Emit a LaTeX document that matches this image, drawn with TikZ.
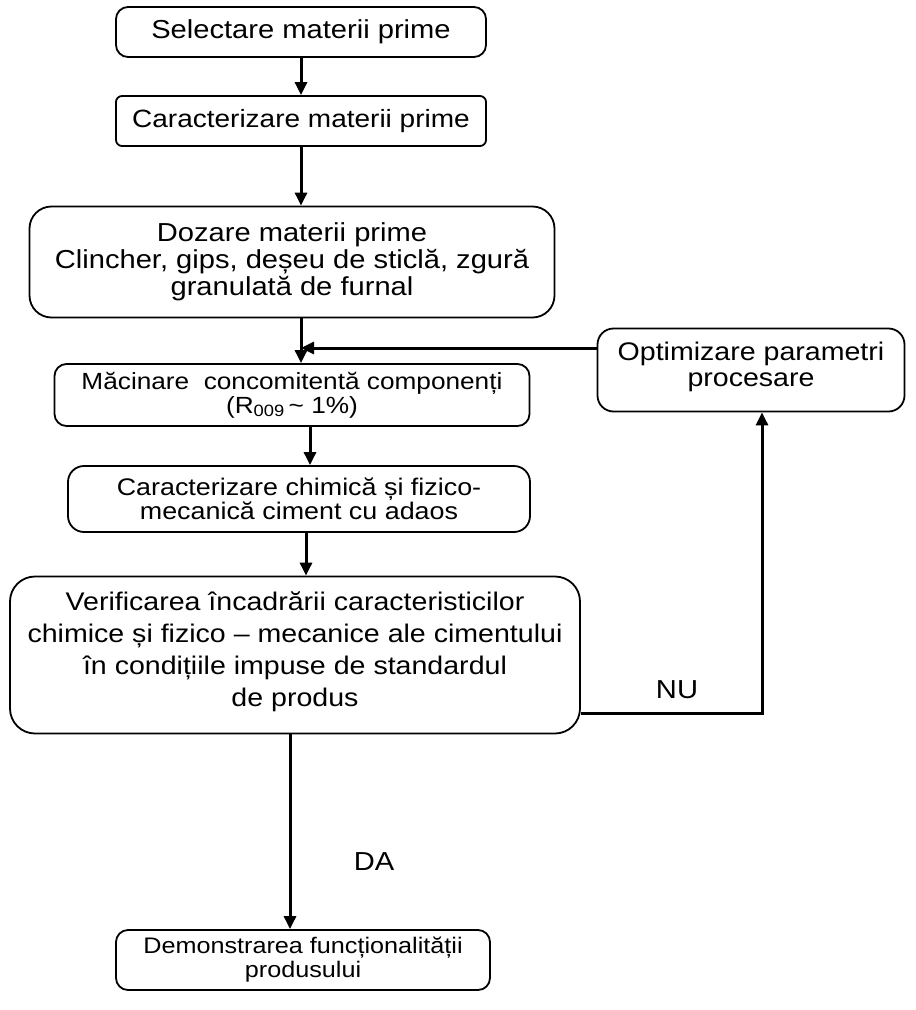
\documentclass[tikz,border=0pt]{standalone}
\usepackage{fontspec}
\setmainfont{Liberation Sans}[FakeStretch=1.12]
\usepackage{tikz}
\usetikzlibrary{calc}
\usetikzlibrary{arrows.meta}

% font size and line distance of a box
\newcommand{\boxfont}[2]{\fontsize{#1}{#2}\selectfont\lineskiplimit=-50pt}

\begin{document}
\begin{tikzpicture}[x=1pt,y=-1pt,
  box/.style={draw,line width=1.8pt,rounded corners=12pt,align=center,inner sep=0pt},
  arr/.style={line width=3pt,-{Triangle[length=13pt,width=12pt]}},
  lbl/.style={font=\boxfont{26}{30}}]
\useasboundingbox (0,0) rectangle (916,1010);

% Main column
\node[box,minimum width=370pt,minimum height=50pt,font=\boxfont{26}{30}] (sel) at (301,32) {Selectare materii prime};
\node[box,minimum width=370pt,minimum height=50pt,rounded corners=6pt,font=\boxfont{25}{30}] (carmp) at (301,121) {Caracterizare materii prime};
\node[box,minimum width=525pt,minimum height=111pt,rounded corners=22pt,font=\boxfont{26}{27}] (doz) at (292,262)
  {Dozare materii prime\\Clincher, gips, deșeu de sticlă, zgură\\granulată de furnal};
\node[box,minimum width=475pt,minimum height=62pt,font=\boxfont{23.4}{24}] (mac) at (292,395)
  {Măcinare\ \ concomitentă componenți\\(R\textsubscript{009}\,\textasciitilde\ 1\%)};
\node[box,minimum width=462pt,minimum height=66pt,rounded corners=16pt,font=\boxfont{24}{24}] (carch) at (299,499)
  {Caracterizare chimică și fizico-\\mecanică ciment cu adaos};
\node[box,minimum width=570pt,minimum height=157pt,rounded corners=25pt,font=\boxfont{25.5}{32}] (ver) at (295,655)
  {Verificarea încadrării caracteristicilor\\chimice și fizico -- mecanice ale cimentului\\în condițiile impuse de standardul\\de produs\\[-20pt]};
\node[box,minimum width=374pt,minimum height=60pt,font=\boxfont{22.5}{24}] (dem) at (303,960)
  {Demonstrarea funcționalității\\produsului};

% Feedback box
\node[box,minimum width=307pt,minimum height=83pt,rounded corners=16pt,font=\boxfont{25.5}{26}] (opt) at (751,370)
  {Optimizare parametri\\procesare\\[-14pt]};

% Joints
\coordinate (join) at (301,348);
\coordinate (nucorner) at (762,713);

% Arrows
\draw[arr] (sel.south -| join) -- (carmp.north -| join);
\draw[arr] (carmp.south -| join) -- (doz.north -| join);
\draw[arr] (doz.south -| join) -- (mac.north -| join);
\draw[arr] (opt.west |- join) -- (join);
\draw[arr] ($(mac.south)+(18,0)$) -- ($(carch.north)+(11,0)$);
\draw[arr] ($(carch.south)+(7,0)$) -- ($(ver.north)+(11,0)$);
\draw[arr] ($(ver.south)+(-5,0)$) -- ($(dem.north)+(-13,0)$);
\draw[arr] (ver.east |- nucorner) -- (nucorner) -- (opt.south -| nucorner);

% Labels
\node[lbl] (nu) at (677,690) {NU};
\node[lbl] (da) at (374,862) {DA};
\end{tikzpicture}
\end{document}
